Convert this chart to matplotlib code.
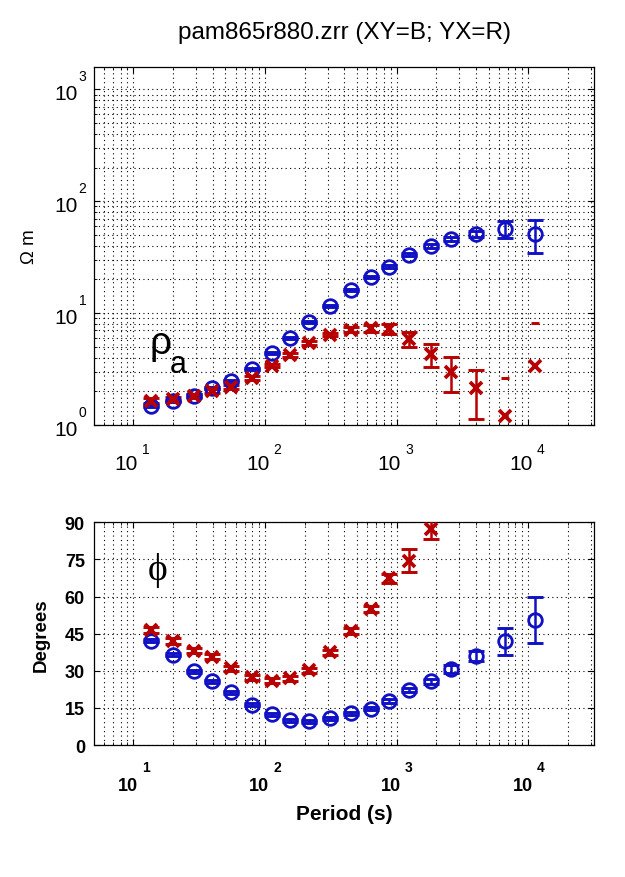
import numpy as np
import matplotlib
matplotlib.use('Agg')
import matplotlib.pyplot as plt
from matplotlib.ticker import LogLocator, NullFormatter, FixedLocator

plt.rcParams['font.family'] = ['Liberation Sans', 'DejaVu Sans']

# ---------------- data ----------------
periods = [13.6, 19.9, 28.6, 39.5, 55, 79, 113, 156, 216, 312, 453, 636,
           880, 1247, 1823, 2600, 4000, 6717, 11350]

xy_rho = [1.49, 1.65, 1.83, 2.13, 2.46, 3.17, 4.38, 6.01, 8.30, 11.55, 16.2,
          21.0, 26.1, 33.3, 39.8, 45.9, 51.3, 56.9, 51.3]
xy_rho_err = [0.04, 0.04, 0.05, 0.05, 0.06, 0.08, 0.10, 0.15, 0.20, 0.30, 0.40,
              0.50, 0.70, 1.0, 1.3, 1.8, 3.5, 10.0, 17.0]

yx_rho = [1.65, 1.71, 1.81, 2.00, 2.18, 2.64, 3.40, 4.23, 5.39, 6.44, 7.13,
          7.34, 7.24, 5.89, 4.32, 3.00, 2.13, 1.21, 3.37]
yx_rho_err = [0.08, 0.08, 0.08, 0.08, 0.08, 0.10, 0.12, 0.15, 0.20, 0.25, 0.35,
              0.50, 0.70, 0.95, 1.0, 1.04, 1.0, 1.41, 4.77]

xy_phase = [42.2, 36.5, 29.8, 25.7, 21.3, 16.3, 12.5, 10.1, 9.7, 10.8, 12.9,
            14.6, 17.8, 22.2, 25.7, 30.7, 36.1, 41.9, 50.5]
xy_phase_err = [0.6, 0.6, 0.6, 0.6, 0.6, 0.6, 0.6, 0.6, 0.6, 0.6, 0.6,
                0.6, 0.8, 0.8, 1.0, 1.5, 2.0, 5.4, 9.3]

yx_phase = [46.5, 41.9, 38.1, 35.7, 31.1, 27.4, 26.0, 27.0, 30.3, 37.5, 46.2,
            55.0, 67.4, 74.5, 87.3, np.nan, np.nan, np.nan, np.nan]
yx_phase_err = [1.2, 1.2, 1.0, 1.0, 1.0, 1.0, 1.0, 1.0, 1.0, 1.0, 1.2,
                1.3, 1.8, 4.6, 4.1, np.nan, np.nan, np.nan, np.nan]

x_tick_values = [10, 100, 1000, 10000]
x_tick_exponents = ['1', '2', '3', '4']
rho_tick_values = [1, 10, 100, 1000]
rho_tick_exponents = ['0', '1', '2', '3']
phase_ticks = [0, 15, 30, 45, 60, 75, 90]

title_text = 'pam865r880.zrr (XY=B; YX=R)'

BLUE = '#1010c4'
RED = '#b80000'

# ---------------- figure ----------------
fig = plt.figure(figsize=(6.25, 8.78), dpi=100)
ax1 = fig.add_axes([0.1504, 0.5148, 0.8, 0.4077])
ax2 = fig.add_axes([0.1504, 0.1503, 0.8, 0.2536])

GRID = dict(linestyle=(0, (1, 3)), color='k', linewidth=0.8)


def draw_series(ax, x, y, err, color, marker, ms, mew, logy):
    x = np.asarray(x, float)
    y = np.asarray(y, float)
    e = np.asarray(err, float)
    ok = ~np.isnan(y)
    if logy:
        full = ok & (y - e > 0)
        part = ok & ~(y - e > 0)
    else:
        full = ok
        part = np.zeros_like(ok)
    ax.errorbar(x[full], y[full], yerr=e[full], fmt='none', ecolor=color,
                elinewidth=1.8, capsize=6, capthick=2.1, zorder=3)
    if part.any():
        # lower bound non-positive on a log axis: only the upper cap shows
        ax.plot(x[part], (y + e)[part], linestyle='none', marker='_', ms=6,
                mew=2.1, color=color, zorder=3)
    ax.plot(x[ok], y[ok], linestyle='none', marker=marker, ms=ms, mew=mew,
            mfc='none', mec=color, zorder=4)


for ax in (ax1, ax2):
    ax.set_xscale('log')
    ax.set_xlim(10 ** 0.7, 10 ** 4.5)
    ax.set_axisbelow(True)
    ax.xaxis.set_major_locator(FixedLocator(x_tick_values))
    ax.xaxis.set_minor_locator(LogLocator(base=10, subs=np.arange(2, 10), numticks=20))
    ax.xaxis.set_minor_formatter(NullFormatter())
    ax.set_xticklabels([])
    ax.tick_params(which='major', direction='in', length=4, width=0.8,
                   top=True, right=True)
    ax.tick_params(which='minor', direction='in', length=2.2, width=0.6,
                   top=True, right=True)
    for s in ax.spines.values():
        s.set_linewidth(0.9)

# ---- top panel ----
ax1.set_yscale('log')
ax1.set_ylim(1, 10 ** 3.2)
ax1.yaxis.set_major_locator(FixedLocator(rho_tick_values))
ax1.yaxis.set_minor_locator(LogLocator(base=10, subs=np.arange(2, 10), numticks=20))
ax1.yaxis.set_minor_formatter(NullFormatter())
ax1.set_yticklabels([])
ax1.grid(True, which='both', **GRID)

draw_series(ax1, periods, xy_rho, xy_rho_err, BLUE, 'o', 9.8, 2.0, True)
draw_series(ax1, periods, yx_rho, yx_rho_err, RED, 'x', 8.6, 2.7, True)

ax1.text(0.111, 0.201, 'ρ', transform=ax1.transAxes, fontsize=28,
         ha='left', va='baseline')
ax1.text(0.152, 0.147, 'a', transform=ax1.transAxes, fontsize=22,
         ha='left', va='baseline')

ax1.set_ylabel('Ω m', fontsize=13.5)
ax1.yaxis.set_label_coords(-0.112, 0.5)
ax1.set_title(title_text, fontsize=17.5, pad=21)

for v, ex in zip(x_tick_values, x_tick_exponents):
    ax1.annotate('10', xy=(v, 0), xycoords=('data', 'axes fraction'),
                 xytext=(3.2, -28), textcoords='offset points',
                 ha='right', va='center', fontsize=15)
    ax1.annotate(ex, xy=(v, 0), xycoords=('data', 'axes fraction'),
                 xytext=(6.0, -17.5), textcoords='offset points',
                 ha='left', va='center', fontsize=10)

for v, ex in zip(rho_tick_values, rho_tick_exponents):
    ax1.annotate('10', xy=(0, v), xycoords=('axes fraction', 'data'),
                 xytext=(-11.6, -3.2), textcoords='offset points',
                 ha='right', va='center', fontsize=15)
    ax1.annotate(ex, xy=(0, v), xycoords=('axes fraction', 'data'),
                 xytext=(-11.0, 9.7), textcoords='offset points',
                 ha='left', va='center', fontsize=10)

# ---- bottom panel ----
ax2.set_ylim(0, 90)
ax2.yaxis.set_major_locator(FixedLocator(phase_ticks))
ax2.set_yticklabels([str(t) for t in phase_ticks], fontsize=13, fontweight='bold')
ax2.tick_params(axis='y', which='major', pad=6.5)
ax2.grid(True, which='major', axis='y', **GRID)
ax2.grid(True, which='both', axis='x', **GRID)

draw_series(ax2, periods, xy_phase, xy_phase_err, BLUE, 'o', 9.8, 2.0, False)
draw_series(ax2, periods, yx_phase, yx_phase_err, RED, 'x', 8.6, 2.7, False)

ax2.text(0.127, 0.79, 'ϕ', transform=ax2.transAxes, fontsize=27,
         family=['Liberation Serif', 'DejaVu Serif'], ha='center', va='center')

for v, ex in zip(x_tick_values, x_tick_exponents):
    ax2.annotate('10', xy=(v, 0), xycoords=('data', 'axes fraction'),
                 xytext=(3.2, -28.8), textcoords='offset points',
                 ha='right', va='center', fontsize=13, fontweight='bold')
    ax2.annotate(ex, xy=(v, 0), xycoords=('data', 'axes fraction'),
                 xytext=(6.0, -15.5), textcoords='offset points',
                 ha='left', va='center', fontsize=10, fontweight='bold')

ax2.set_ylabel('Degrees', fontsize=13.5, fontweight='bold')
ax2.yaxis.set_label_coords(-0.088, 0.5)
ax2.set_xlabel('Period (s)', fontsize=15, fontweight='bold')
ax2.xaxis.set_label_coords(0.5, -0.265)

fig.savefig('out.png', dpi=100, facecolor='white')
